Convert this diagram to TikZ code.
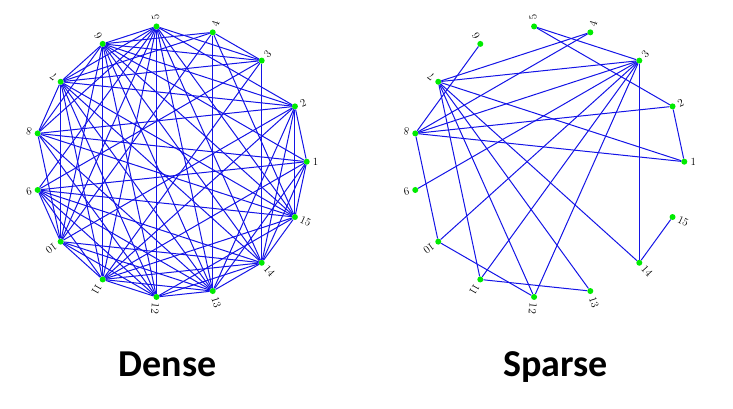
\documentclass[tikz,border=0pt]{standalone}
\usepackage{fontspec}
\newfontfamily\titlefont{Carlito}
\definecolor{vgreen}{RGB}{0,235,0}
\definecolor{eblue}{RGB}{20,20,230}
\begin{document}
\begin{tikzpicture}[x=1pt,y=1pt,
  vtx/.style={circle,fill=vgreen,inner sep=0pt,minimum size=6pt},
  edge/.style={draw=eblue,line width=1pt},
  lbl/.style={inner sep=0pt,font=\fontsize{11}{12}\selectfont},
  ttl/.style={anchor=base,inner sep=0pt,font=\titlefont\bfseries\fontsize{38}{40}\selectfont}
]
\useasboundingbox (0,0) rectangle (733,409);
% dense graph
\begin{scope}[shift={(170.7,247.3)}]
\foreach \i in {1,...,15}{
  \node[vtx] (d\i) at ({(\i-1)*24}:136) {};
  \node[lbl,rotate={(\i-1)*24},anchor=west] (dl\i) at ({(\i-1)*24}:142) {\i};
}
\end{scope}
% sparse graph
\begin{scope}[shift={(548.3,247.3)}]
\foreach \i in {1,...,15}{
  \node[vtx] (s\i) at ({(\i-1)*24}:136) {};
  \node[lbl,rotate={(\i-1)*24},anchor=west] (sl\i) at ({(\i-1)*24}:142) {\i};
}
\end{scope}
\foreach \a/\b in {1/2,1/15,1/14,1/8,1/9,1/6,1/11,1/13,
  2/15,2/14,2/13,2/11,2/10,2/8,2/7,2/6,2/5,
  3/14,3/6,3/7,3/5,3/4,3/9,3/11,
  4/13,4/6,4/7,4/10,4/15,
  5/12,5/6,5/7,5/8,5/9,5/10,5/11,5/13,5/14,5/15,
  6/11,6/7,6/8,6/12,6/13,6/14,6/15,6/10,
  7/8,7/10,7/12,7/13,7/14,7/15,7/11,
  8/10,8/12,8/13,8/15,
  9/10,9/11,9/12,9/14,9/15,9/13,
  10/11,10/12,10/13,10/14,
  11/12,11/14,11/13,11/15,
  12/13,12/14,12/15,13/14,14/15}
  \draw[edge] (d\a) -- (d\b);
\foreach \a/\b in {5/3,5/2,4/7,4/8,6/8,7/3,7/1,7/14,7/13,7/12,7/11,
  8/3,8/2,8/1,8/10,9/3,10/3,10/12,11/3,11/13,12/3,3/14,2/1,14/15}
  \draw[edge] (s\a) -- (s\b);
\node[ttl] (t1) at (167.5,32) {Dense};
\node[ttl] (t2) at (555.8,32) {Sparse};
\end{tikzpicture}
\end{document}
